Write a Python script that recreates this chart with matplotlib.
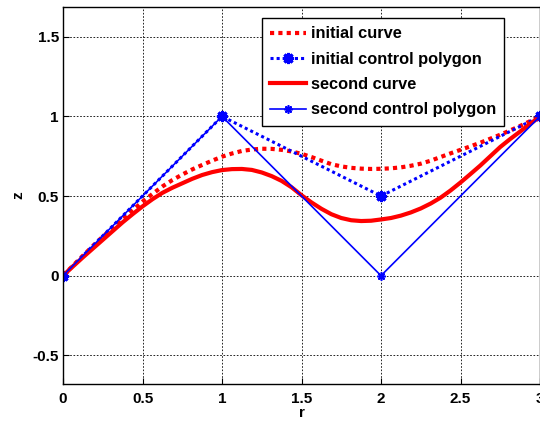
import matplotlib
matplotlib.use("Agg")
import matplotlib.pyplot as plt

plt.rcParams["font.family"] = ["Liberation Sans", "DejaVu Sans"]
plt.rcParams["font.weight"] = "bold"

# control polygons
poly_r = [0, 1, 2, 3]
init_poly_z = [0, 1, 0.5, 1]
second_poly_z = [0, 1, 0, 1]

# curves, every 1/16 in r
curve_r = [i / 16 for i in range(49)]
init_curve_z = [0, 0.063, 0.125, 0.186, 0.245, 0.30, 0.355, 0.41, 0.465, 0.513,
                0.56, 0.60, 0.635, 0.667, 0.695, 0.722, 0.747, 0.767, 0.783, 0.792,
                0.797, 0.796, 0.79, 0.78, 0.765, 0.745, 0.722, 0.70, 0.686, 0.677,
                0.672, 0.67, 0.671, 0.674, 0.68, 0.69, 0.703, 0.722, 0.745, 0.768,
                0.79, 0.812, 0.835, 0.86, 0.885, 0.912, 0.94, 0.97, 1.0]
second_curve_z = [0, 0.058, 0.115, 0.17, 0.225, 0.28, 0.335, 0.386, 0.435, 0.48,
                  0.52, 0.552, 0.58, 0.608, 0.632, 0.65, 0.663, 0.669, 0.67, 0.664,
                  0.648, 0.625, 0.595, 0.555, 0.505, 0.46, 0.42, 0.386, 0.362, 0.348,
                  0.343, 0.345, 0.353, 0.362, 0.377, 0.397, 0.422, 0.453, 0.49, 0.535,
                  0.585, 0.638, 0.692, 0.75, 0.808, 0.858, 0.905, 0.952, 1.0]

xticks = [0, 0.5, 1, 1.5, 2, 2.5, 3]
xtick_labels = ["0", "0.5", "1", "1.5", "2", "2.5", "3"]
yticks = [-0.5, 0, 0.5, 1, 1.5]
ytick_labels = ["-0.5", "0", "0.5", "1", "1.5"]

asterisk = (8, 2, 0)

fig = plt.figure(figsize=(5.4, 4.25), dpi=100)
ax = fig.add_axes([0.1167, 0.0965, 0.8833, 0.8871])

ax.plot(curve_r, init_curve_z, color="red", lw=3, linestyle=(0, (1, 1)),
        label="initial curve")
ax.plot(poly_r, init_poly_z, color="blue", lw=2.2, linestyle=(0, (1, 1)),
        marker=asterisk, markersize=8, markeredgewidth=2.2,
        label="initial control polygon")
ax.plot(curve_r, second_curve_z, color="red", lw=3, solid_joinstyle="round",
        label="second curve")
ax.plot(poly_r, second_poly_z, color="blue", lw=1.2, marker=asterisk,
        markersize=6, markeredgewidth=1.2, label="second control polygon")

ax.set_xlim(0, 3)
ax.set_ylim(-0.68, 1.687)
ax.set_xticks(xticks)
ax.set_xticklabels(xtick_labels)
ax.set_yticks(yticks)
ax.set_yticklabels(ytick_labels)
ax.tick_params(direction="in", labelsize=11, length=4)
ax.tick_params(axis="x", pad=6)
ax.tick_params(axis="y", pad=3)
for lab in ax.get_xticklabels() + ax.get_yticklabels():
    lab.set_fontweight("bold")
ax.grid(True, color="black", linestyle=(0, (2, 2)), lw=0.6)
for s in ax.spines.values():
    s.set_linewidth(1)

ax.set_xlabel("r", fontsize=11, fontweight="bold", labelpad=0)
ax.set_ylabel("z", fontsize=11, fontweight="bold", labelpad=5)

leg = ax.legend(loc="upper right", bbox_to_anchor=(0.925, 0.97), fontsize=11.8,
                handlelength=2.2, handletextpad=0.3, labelspacing=0.63,
                borderpad=0.5, borderaxespad=0,
                fancybox=False, framealpha=1, edgecolor="black")
leg.get_frame().set_linewidth(1)
for t in leg.get_texts():
    t.set_fontweight("bold")

fig.savefig("out.png", dpi=100)
